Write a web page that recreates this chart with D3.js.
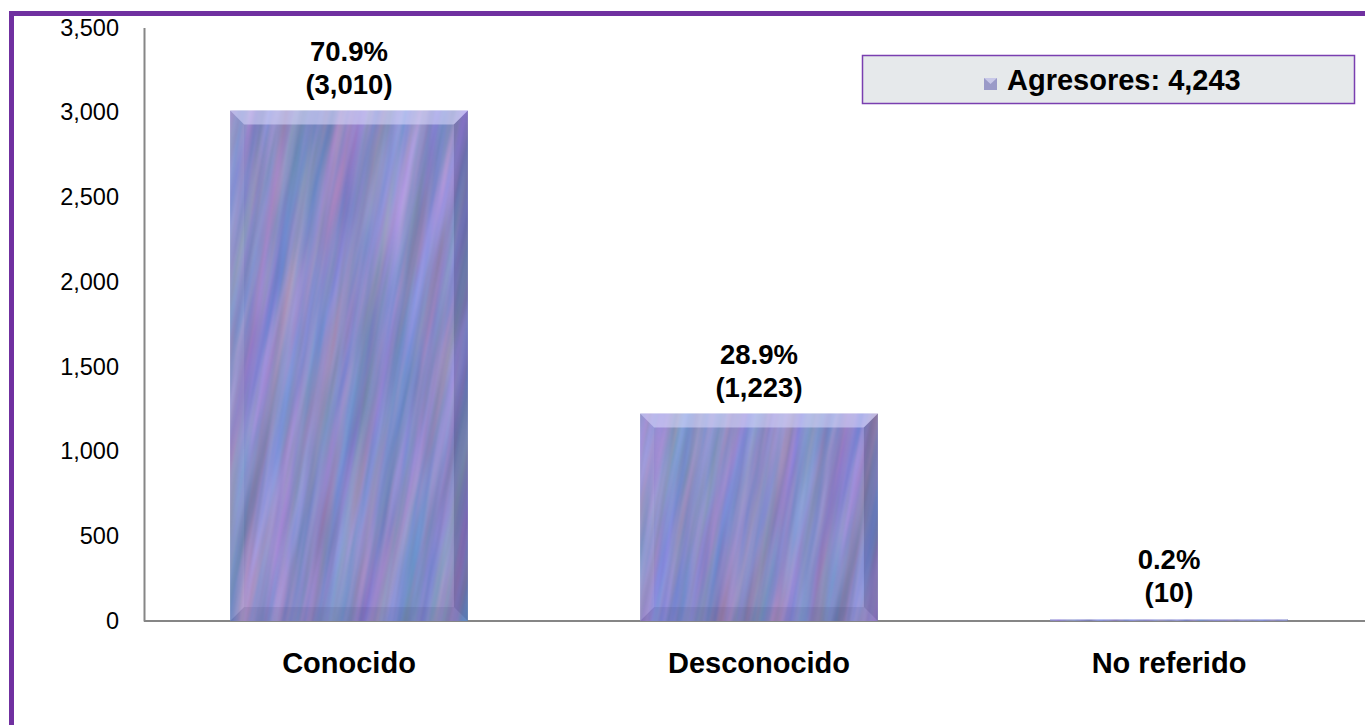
<!DOCTYPE html>
<html>
<head>
<meta charset="utf-8">
<script src="https://cdn.jsdelivr.net/npm/d3@7"></script>
<style>
  html, body { margin: 0; padding: 0; background: #fff; overflow: hidden; }
  svg { display: block; font-family: "Liberation Sans", Arial, sans-serif; }
</style>
</head>
<body>
<svg id="chart" width="1365" height="725"></svg>
<script>
// Chart data
const categories = ["Conocido", "Desconocido", "No referido"];
const values = [3010, 1223, 10];
const percents = ["70.9%", "28.9%", "0.2%"];
const yTicks = [0, 500, 1000, 1500, 2000, 2500, 3000, 3500];
const legendLabel = "Agresores: 4,243";

const svg = d3.select("#chart");
const defs = svg.append("defs");

// Streaky painted texture for the bars
const filter = defs.append("filter").attr("id", "streak")
  .attr("x", 0).attr("y", 0).attr("width", 1).attr("height", 1)
  .attr("color-interpolation-filters", "sRGB");
filter.append("feTurbulence")
  .attr("type", "fractalNoise")
  .attr("baseFrequency", "0.07 0.005")
  .attr("numOctaves", 3)
  .attr("seed", 11)
  .attr("result", "noise");
filter.append("feColorMatrix")
  .attr("in", "noise")
  .attr("type", "matrix")
  .attr("values", "0.3 0.2 -0.1 0 0.34  -0.05 0.2 0 0 0.475  0.05 0.15 0.25 0 0.555  0 0 0 0 1");

const pattern = defs.append("pattern").attr("id", "barTexture")
  .attr("patternUnits", "userSpaceOnUse")
  .attr("width", 600).attr("height", 900)
  .attr("patternTransform", "rotate(10)");
pattern.append("rect")
  .attr("width", 600).attr("height", 900)
  .attr("fill", "#8a8cc8")
  .attr("filter", "url(#streak)");

// Frame
svg.append("rect")
  .attr("x", 11.5).attr("y", 13.5)
  .attr("width", 1400).attr("height", 800)
  .attr("fill", "none")
  .attr("stroke", "#7030a0")
  .attr("stroke-width", 5);

const margin = { left: 144, top: 27.5, bottom: 621, right: 1374 };

const x = d3.scaleBand()
  .domain(categories)
  .range([margin.left, margin.right])
  .paddingInner(0.42)
  .paddingOuter(0.21);

const y = d3.scaleLinear()
  .domain([0, 3500])
  .range([margin.bottom, margin.top]);

// Y axis
const yAxis = svg.append("g")
  .attr("transform", `translate(${margin.left},0)`)
  .call(d3.axisLeft(y).tickValues(yTicks).tickSize(0).tickPadding(25).tickFormat(d3.format(",")));
yAxis.select(".domain").attr("stroke", "#868686").attr("stroke-width", 2);
yAxis.selectAll("text").attr("font-size", 23.5).attr("fill", "#000").attr("dy", "0.32em")
  .attr("font-family", "Liberation Sans, Arial, sans-serif");

// X axis line
svg.append("line")
  .attr("x1", margin.left).attr("x2", 1365)
  .attr("y1", y(0)).attr("y2", y(0))
  .attr("stroke", "#868686").attr("stroke-width", 2);

// Bars
const bars = svg.append("g").selectAll("g")
  .data(categories)
  .enter().append("g");

bars.each(function (c, i) {
  const g = d3.select(this);
  const x0 = x(c), w = x.bandwidth();
  const y0 = y(values[i]), h = y(0) - y0;
  const b = Math.min(14, h / 2, w / 2);
  const x1 = x0 + w, y1 = y0 + h;

  g.append("rect")
    .attr("x", x0).attr("y", y0)
    .attr("width", w).attr("height", h)
    .attr("fill", "url(#barTexture)");

  // bevel edges
  g.append("polygon")
    .attr("points", [[x0, y0], [x1, y0], [x1 - b, y0 + b], [x0 + b, y0 + b]].join(" "))
    .attr("fill", "#dcdcff").attr("opacity", 0.55);
  g.append("polygon")
    .attr("points", [[x0, y0], [x0 + b, y0 + b], [x0 + b, y1 - b], [x0, y1]].join(" "))
    .attr("fill", "#ffffff").attr("opacity", 0.08);
  g.append("polygon")
    .attr("points", [[x1, y0], [x1, y1], [x1 - b, y1 - b], [x1 - b, y0 + b]].join(" "))
    .attr("fill", "#1a1a50").attr("opacity", 0.22);
  g.append("polygon")
    .attr("points", [[x0, y1], [x0 + b, y1 - b], [x1 - b, y1 - b], [x1, y1]].join(" "))
    .attr("fill", "#1a1a50").attr("opacity", 0.1);

  // value labels
  const cx = x0 + w / 2;
  g.append("text")
    .attr("x", cx).attr("y", y0 - 50)
    .attr("text-anchor", "middle")
    .attr("font-size", 27.5).attr("font-weight", "bold")
    .text(percents[i]);
  g.append("text")
    .attr("x", cx).attr("y", y0 - 17)
    .attr("text-anchor", "middle")
    .attr("font-size", 27.5).attr("font-weight", "bold")
    .text(`(${d3.format(",")(values[i])})`);

  // category labels
  g.append("text")
    .attr("x", cx).attr("y", 673)
    .attr("text-anchor", "middle")
    .attr("font-size", 29).attr("font-weight", "bold")
    .text(c);
});

// Legend
const legend = svg.append("g");
legend.append("rect")
  .attr("x", 862.5).attr("y", 55.5)
  .attr("width", 492).attr("height", 48)
  .attr("fill", "#e6e9eb")
  .attr("stroke", "#7a3fb0").attr("stroke-width", 1.5);
legend.append("rect")
  .attr("x", 984).attr("y", 78)
  .attr("width", 13).attr("height", 12)
  .attr("fill", "#9a9ac8");
legend.append("polygon")
  .attr("points", "984,78 990.5,84 997,78")
  .attr("fill", "#c8c8e8");
legend.append("text")
  .attr("x", 1007).attr("y", 90)
  .attr("font-size", 29).attr("font-weight", "bold")
  .text(legendLabel);
</script>
</body>
</html>
